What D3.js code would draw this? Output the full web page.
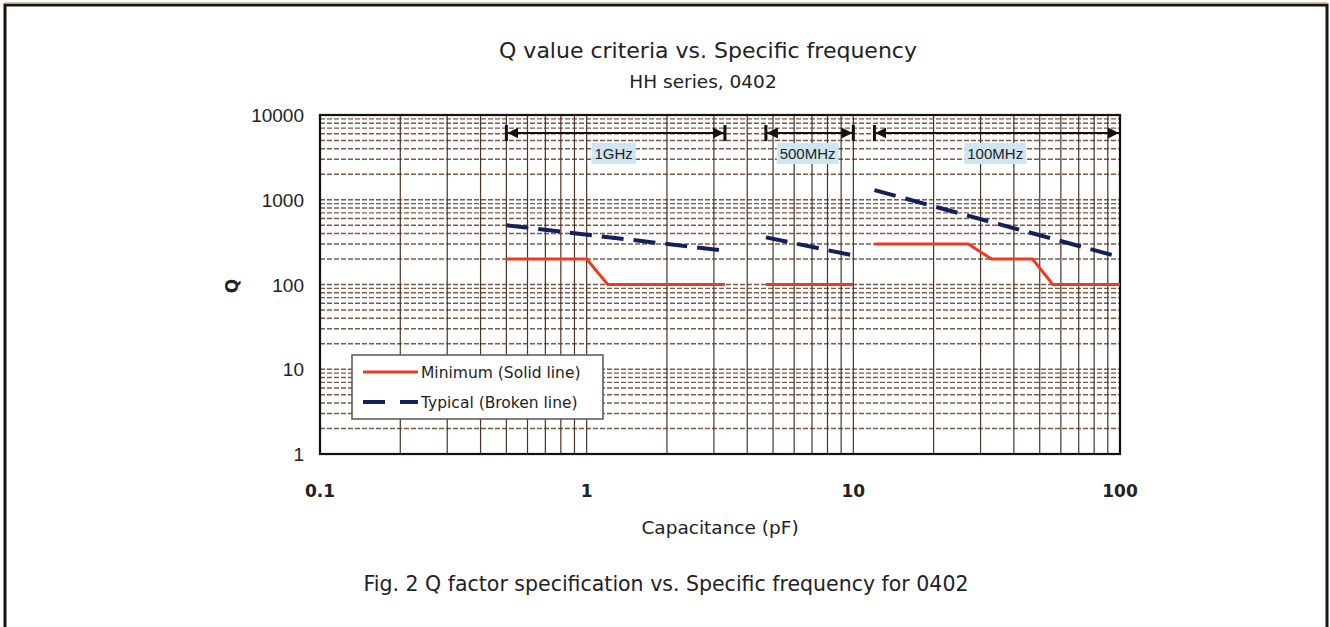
<!DOCTYPE html>
<html>
<head>
<meta charset="utf-8">
<script src="https://d3js.org/d3.v7.min.js"></script>
<style>
  body { margin: 0; background: #fff; }
  svg { display: block; }
</style>
</head>
<body>
<div id="chart"></div>
<script>
// frequency bands (capacitance ranges in pF)
const bandNames = ["1GHz", "500MHz", "100MHz"];
const bandFrom = [0.5, 4.7, 12];
const bandTo = [3.3, 10, 100];

// Minimum Q (solid line), one segment per band
const minCap = [
  [0.5, 1.0, 1.2, 3.3],
  [4.7, 10],
  [12, 27, 33, 47, 56, 100]
];
const minQ = [
  [200, 200, 100, 100],
  [100, 100],
  [300, 300, 200, 200, 100, 100]
];

// Typical Q (broken line)
const typCap = [
  [0.5, 3.3],
  [4.7, 10],
  [12, 100]
];
const typQ = [
  [500, 250],
  [360, 220],
  [1300, 210]
];

const xTicks = [0.1, 1, 10, 100];
const yTicks = [1, 10, 100, 1000, 10000];

const W = 1330, H = 627;
const pL = 320, pR = 1120, pT = 115, pB = 454;

const svg = d3.select("#chart").append("svg")
  .attr("width", W).attr("height", H);

// outer frame
svg.append("path")
  .attr("d", `M5,${H} L5,5 L1327,5 L1327,${H}`)
  .style("fill", "none").style("stroke", "#1a1410").style("stroke-width", 3);
svg.append("line").attr("x1", 5).attr("x2", 1327).attr("y1", 3).attr("y2", 3)
  .style("stroke", "#c8ad9a").style("stroke-width", 1.5);

const x = d3.scaleLog().domain([0.1, 100]).range([pL, pR]);
const y = d3.scaleLog().domain([1, 10000]).range([pB, pT]);

// grid
const minorX = [], minorY = [];
for (let d = 0.1; d < 100; d *= 10)
  for (let k = 1; k <= 9; k++) minorX.push(d * k);
for (let d = 1; d < 10000; d *= 10)
  for (let k = 1; k <= 9; k++) minorY.push(d * k);

svg.append("g").selectAll("line").data(minorY).join("line")
  .attr("x1", pL).attr("x2", pR)
  .attr("y1", d => y(d)).attr("y2", d => y(d))
  .style("stroke", "#7a5a48").style("stroke-width", 1.4)
  .style("stroke-dasharray", "5,2");

svg.append("g").selectAll("line").data(minorX.slice(1)).join("line")
  .attr("x1", d => x(d)).attr("x2", d => x(d))
  .attr("y1", pT).attr("y2", pB)
  .style("stroke", "#4a3428").style("stroke-width", 1.2);

// plot border
svg.append("rect").attr("x", pL).attr("y", pT)
  .attr("width", pR - pL).attr("height", pB - pT)
  .style("fill", "none").style("stroke", "#111").style("stroke-width", 2.2);

// tick labels
svg.append("g").selectAll("text").data(yTicks).join("text")
  .attr("x", 304).attr("y", d => y(d) + 7)
  .attr("text-anchor", "end")
  .style("font", "19px 'Liberation Sans', Arial, sans-serif")
  .style("fill", "#222")
  .text(d => d);

svg.append("g").selectAll("text").data(xTicks).join("text")
  .attr("x", d => x(d)).attr("y", 497)
  .attr("text-anchor", "middle")
  .style("font", "bold 17px 'DejaVu Sans', sans-serif")
  .style("fill", "#222")
  .text(d => d);

// axis titles
svg.append("text").attr("x", 720).attr("y", 534)
  .attr("text-anchor", "middle")
  .style("font", "18.5px 'DejaVu Sans', sans-serif").style("fill", "#222")
  .text("Capacitance (pF)");
svg.append("text")
  .attr("transform", "translate(238,286) rotate(-90)")
  .attr("text-anchor", "middle")
  .style("font", "bold 17px 'DejaVu Sans', sans-serif").style("fill", "#222")
  .text("Q");

// titles
svg.append("text").attr("x", 708).attr("y", 58)
  .attr("text-anchor", "middle")
  .style("font", "22px 'DejaVu Sans', sans-serif").style("fill", "#222")
  .text("Q value criteria vs. Specific frequency");
svg.append("text").attr("x", 703).attr("y", 88)
  .attr("text-anchor", "middle")
  .style("font", "18.5px 'DejaVu Sans', sans-serif").style("fill", "#222")
  .text("HH series, 0402");
svg.append("text").attr("x", 666).attr("y", 591)
  .attr("text-anchor", "middle")
  .style("font", "20.5px 'DejaVu Sans', sans-serif").style("fill", "#222")
  .text("Fig. 2 Q factor specification vs. Specific frequency for 0402");

// band arrows
const defs = svg.append("defs");
defs.append("marker").attr("id", "ah").attr("viewBox", "0 0 10 10")
  .attr("refX", 10).attr("refY", 5)
  .attr("markerWidth", 5).attr("markerHeight", 5)
  .attr("markerUnits", "strokeWidth")
  .attr("orient", "auto-start-reverse")
  .append("path").attr("d", "M0,0 L10,5 L0,10 Z").style("fill", "#111");

const arrowY = 133;
const bands = svg.append("g");
bandNames.forEach((name, i) => {
  const x0 = x(bandFrom[i]), x1 = x(bandTo[i]);
  bands.append("line")
    .attr("x1", x0 + 1).attr("x2", x1 - 1)
    .attr("y1", arrowY).attr("y2", arrowY)
    .style("stroke", "#111").style("stroke-width", 2.2)
    .attr("marker-start", "url(#ah)").attr("marker-end", "url(#ah)");
  bands.append("line").attr("x1", x0).attr("x2", x0)
    .attr("y1", arrowY - 8).attr("y2", arrowY + 8)
    .style("stroke", "#111").style("stroke-width", 3);
  if (bandTo[i] < 100)
    bands.append("line").attr("x1", x1).attr("x2", x1)
      .attr("y1", arrowY - 8).attr("y2", arrowY + 8)
      .style("stroke", "#111").style("stroke-width", 3);
  const cx = x(Math.sqrt(bandFrom[i] * bandTo[i]));
  const bg = bands.append("rect").style("fill", "#cfe6f2");
  const t = bands.append("text").attr("x", cx - 2).attr("y", 159)
    .attr("text-anchor", "middle")
    .style("font", "15px 'Liberation Sans', Arial, sans-serif")
    .style("fill", "#222").text(name);
  const bb = t.node().getBBox();
  bg.attr("x", bb.x - 3).attr("y", bb.y - 2)
    .attr("width", bb.width + 6).attr("height", bb.height + 4);
});

// series
const line = d3.line().x(d => x(d[0])).y(d => y(d[1]));

minCap.forEach((caps, i) => {
  svg.append("path")
    .datum(caps.map((c, j) => [c, minQ[i][j]]))
    .attr("d", line)
    .style("fill", "none").style("stroke", "#ee3a22").style("stroke-width", 3);
});
typCap.forEach((caps, i) => {
  svg.append("path")
    .datum(caps.map((c, j) => [c, typQ[i][j]]))
    .attr("d", line)
    .style("fill", "none").style("stroke", "#14205a").style("stroke-width", 4)
    .style("stroke-dasharray", "22,10");
});

// legend
const lg = svg.append("g");
lg.append("rect").attr("x", 352).attr("y", 355).attr("width", 251).attr("height", 64)
  .style("fill", "#fff").style("stroke", "#555").style("stroke-width", 1.5);
lg.append("line").attr("x1", 363).attr("x2", 418).attr("y1", 372).attr("y2", 372)
  .style("stroke", "#ee3a22").style("stroke-width", 3);
lg.append("line").attr("x1", 363).attr("x2", 418).attr("y1", 402).attr("y2", 402)
  .style("stroke", "#14205a").style("stroke-width", 4).style("stroke-dasharray", "22,15");
lg.append("text").attr("x", 421).attr("y", 378)
  .style("font", "15.5px 'DejaVu Sans', sans-serif").style("fill", "#222")
  .text("Minimum (Solid line)");
lg.append("text").attr("x", 421).attr("y", 408)
  .style("font", "15.5px 'DejaVu Sans', sans-serif").style("fill", "#222")
  .text("Typical (Broken line)");
</script>
</body>
</html>
